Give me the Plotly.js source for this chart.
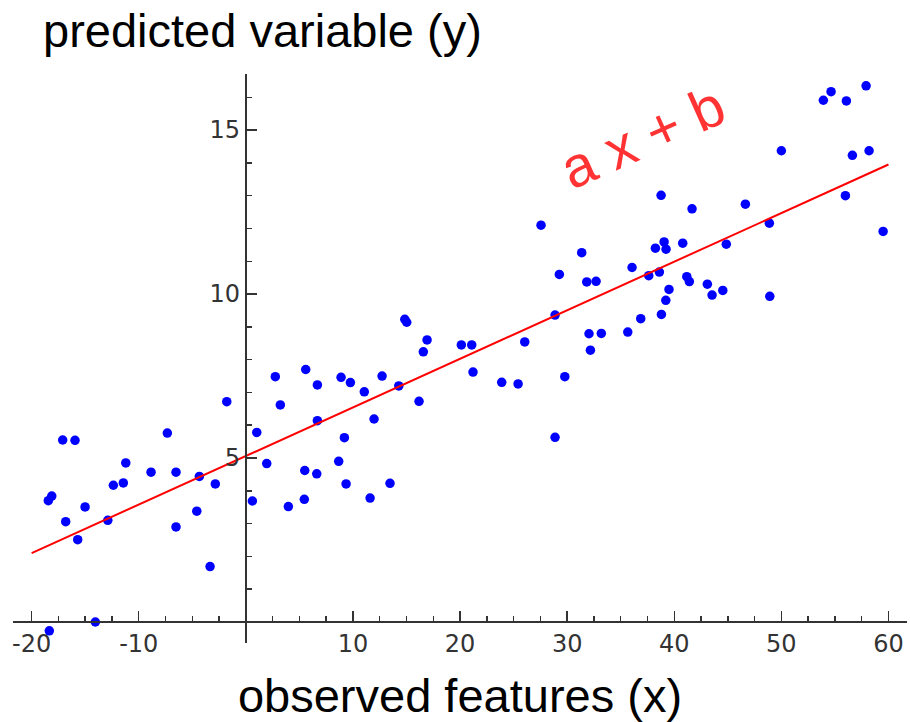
<!DOCTYPE html>
<html>
<head>
<meta charset="utf-8">
<script src="https://cdn.plot.ly/plotly-3.0.1.min.js"></script>
<style>html,body{margin:0;padding:0;background:#fff;}#chart{width:910px;height:722px;}</style>
</head>
<body>
<div id="chart"></div>
<script>
// observed data points (x, y)
const pointsX = [-18.44,-18.12,-17.10,-15.95,-16.82,-15.70,-15.01,-14.05,-18.35,-12.89,
  -12.37,-11.44,-11.21,-8.85,-7.33,-6.52,-6.52,-4.58,-4.34,-3.34,
  -2.85,-1.78,0.61,1.02,1.95,3.22,3.97,2.75,5.59,6.68,
  6.68,5.50,6.62,5.46,8.89,9.76,11.06,9.20,8.67,9.36,
  11.97,12.72,11.60,13.46,14.28,14.84,15.02,16.17,16.57,16.92,
  20.12,21.09,21.21,23.89,25.42,26.04,27.56,28.87,29.27,29.78,
  28.87,31.36,31.83,32.70,32.04,32.17,33.19,35.66,36.06,36.87,
  37.62,38.61,38.24,39.05,39.23,38.77,39.51,39.21,38.80,40.79,
  41.17,41.41,41.66,46.64,50.00,48.88,44.86,43.09,43.53,44.53,
  48.92,53.92,54.64,56.07,57.91,56.63,58.19,55.98,59.50];
const pointsY = [3.70,3.84,5.55,5.54,3.06,2.51,3.51,0.00,-0.27,3.10,
  4.17,4.24,4.85,4.57,5.76,4.57,2.90,3.38,4.44,1.69,
  4.21,6.72,3.69,5.78,4.83,6.62,3.52,7.48,7.70,7.23,
  6.14,4.62,4.52,3.74,7.46,7.30,7.02,5.62,4.90,4.21,
  6.19,7.50,3.78,4.23,7.20,9.23,9.14,6.73,8.24,8.60,
  8.45,8.45,7.62,7.31,7.26,8.54,12.10,9.36,10.60,7.48,
  5.63,11.26,10.37,10.39,8.79,8.29,8.80,8.84,10.81,9.25,
  10.56,10.67,11.40,11.59,11.37,13.01,10.14,9.81,9.38,11.55,
  10.53,10.38,12.60,12.74,14.37,12.16,11.52,10.30,9.97,10.11,
  9.93,15.91,16.17,15.89,16.35,14.23,14.37,13.00,11.91];

// fitted line endpoints
const lineX = [-20, 60];
const lineY = [2.1, 13.95];

// tick labels
const xTickVals = [-20, -10, 0, 10, 20, 30, 40, 50, 60];
const xTickText = ['-20', '-10', '', '10', '20', '30', '40', '50', '60'];
const yTickVals = [0, 5, 10, 15];
const yTickText = ['', '5', '10', '15'];

const xRange = [-21.74, 61.73];
const yRange = [-0.64, 16.71];

const traces = [
  {
    type: 'scatter', mode: 'markers', x: pointsX, y: pointsY,
    marker: {color: '#0000ff', size: 9.5}, cliponaxis: false, hoverinfo: 'x+y'
  },
  {
    type: 'scatter', mode: 'lines', x: lineX, y: lineY,
    line: {color: '#ff0000', width: 2}, hoverinfo: 'skip'
  }
];

const tickFont = {family: 'DejaVu Sans', size: 24, color: '#333333'};

const layout = {
  width: 910, height: 722,
  margin: {l: 13, r: 3, t: 74, b: 79, pad: 0},
  paper_bgcolor: '#ffffff', plot_bgcolor: '#ffffff',
  showlegend: false,
  title: {
    text: 'predicted variable (y)',
    font: {family: 'Liberation Sans', size: 47, color: '#000000'},
    x: 43 / 910, xref: 'container', xanchor: 'left',
    y: 0.981, yref: 'container', yanchor: 'top'
  },
  xaxis: {
    range: xRange, anchor: 'free', position: 0.64 / 17.35,
    showgrid: false, zeroline: false,
    showline: true, linecolor: '#333333', linewidth: 2,
    tickmode: 'array', tickvals: xTickVals, ticktext: xTickText,
    ticks: 'inside', ticklen: 10, tickwidth: 1.5, tickcolor: '#333333',
    minor: {tickmode: 'linear', tick0: 0, dtick: 2.5, ticks: 'inside', ticklen: 5, tickwidth: 1.5, tickcolor: '#333333'},
    tickfont: tickFont, automargin: false,
    title: {text: 'observed features (x)', font: {family: 'Liberation Sans', size: 47, color: '#000000'}, standoff: 21}
  },
  yaxis: {
    range: yRange, anchor: 'free', position: 21.74 / 83.47,
    showgrid: false, zeroline: false,
    showline: true, linecolor: '#333333', linewidth: 2,
    tickmode: 'array', tickvals: yTickVals, ticktext: yTickText,
    ticks: 'inside', ticklen: 10, tickwidth: 1.5, tickcolor: '#333333',
    minor: {tickmode: 'linear', tick0: 0, dtick: 1, ticks: 'inside', ticklen: 5, tickwidth: 1.5, tickcolor: '#333333'},
    tickfont: tickFont, automargin: false
  },
  annotations: [
    {
      text: 'a x + b', x: 37.0, y: 14.8, xref: 'x', yref: 'y',
      showarrow: false, textangle: -24,
      font: {family: 'Liberation Sans', size: 57, color: '#ff3333'}
    }
  ]
};

Plotly.newPlot('chart', traces, layout, {displayModeBar: false, staticPlot: true});
</script>
</body>
</html>
